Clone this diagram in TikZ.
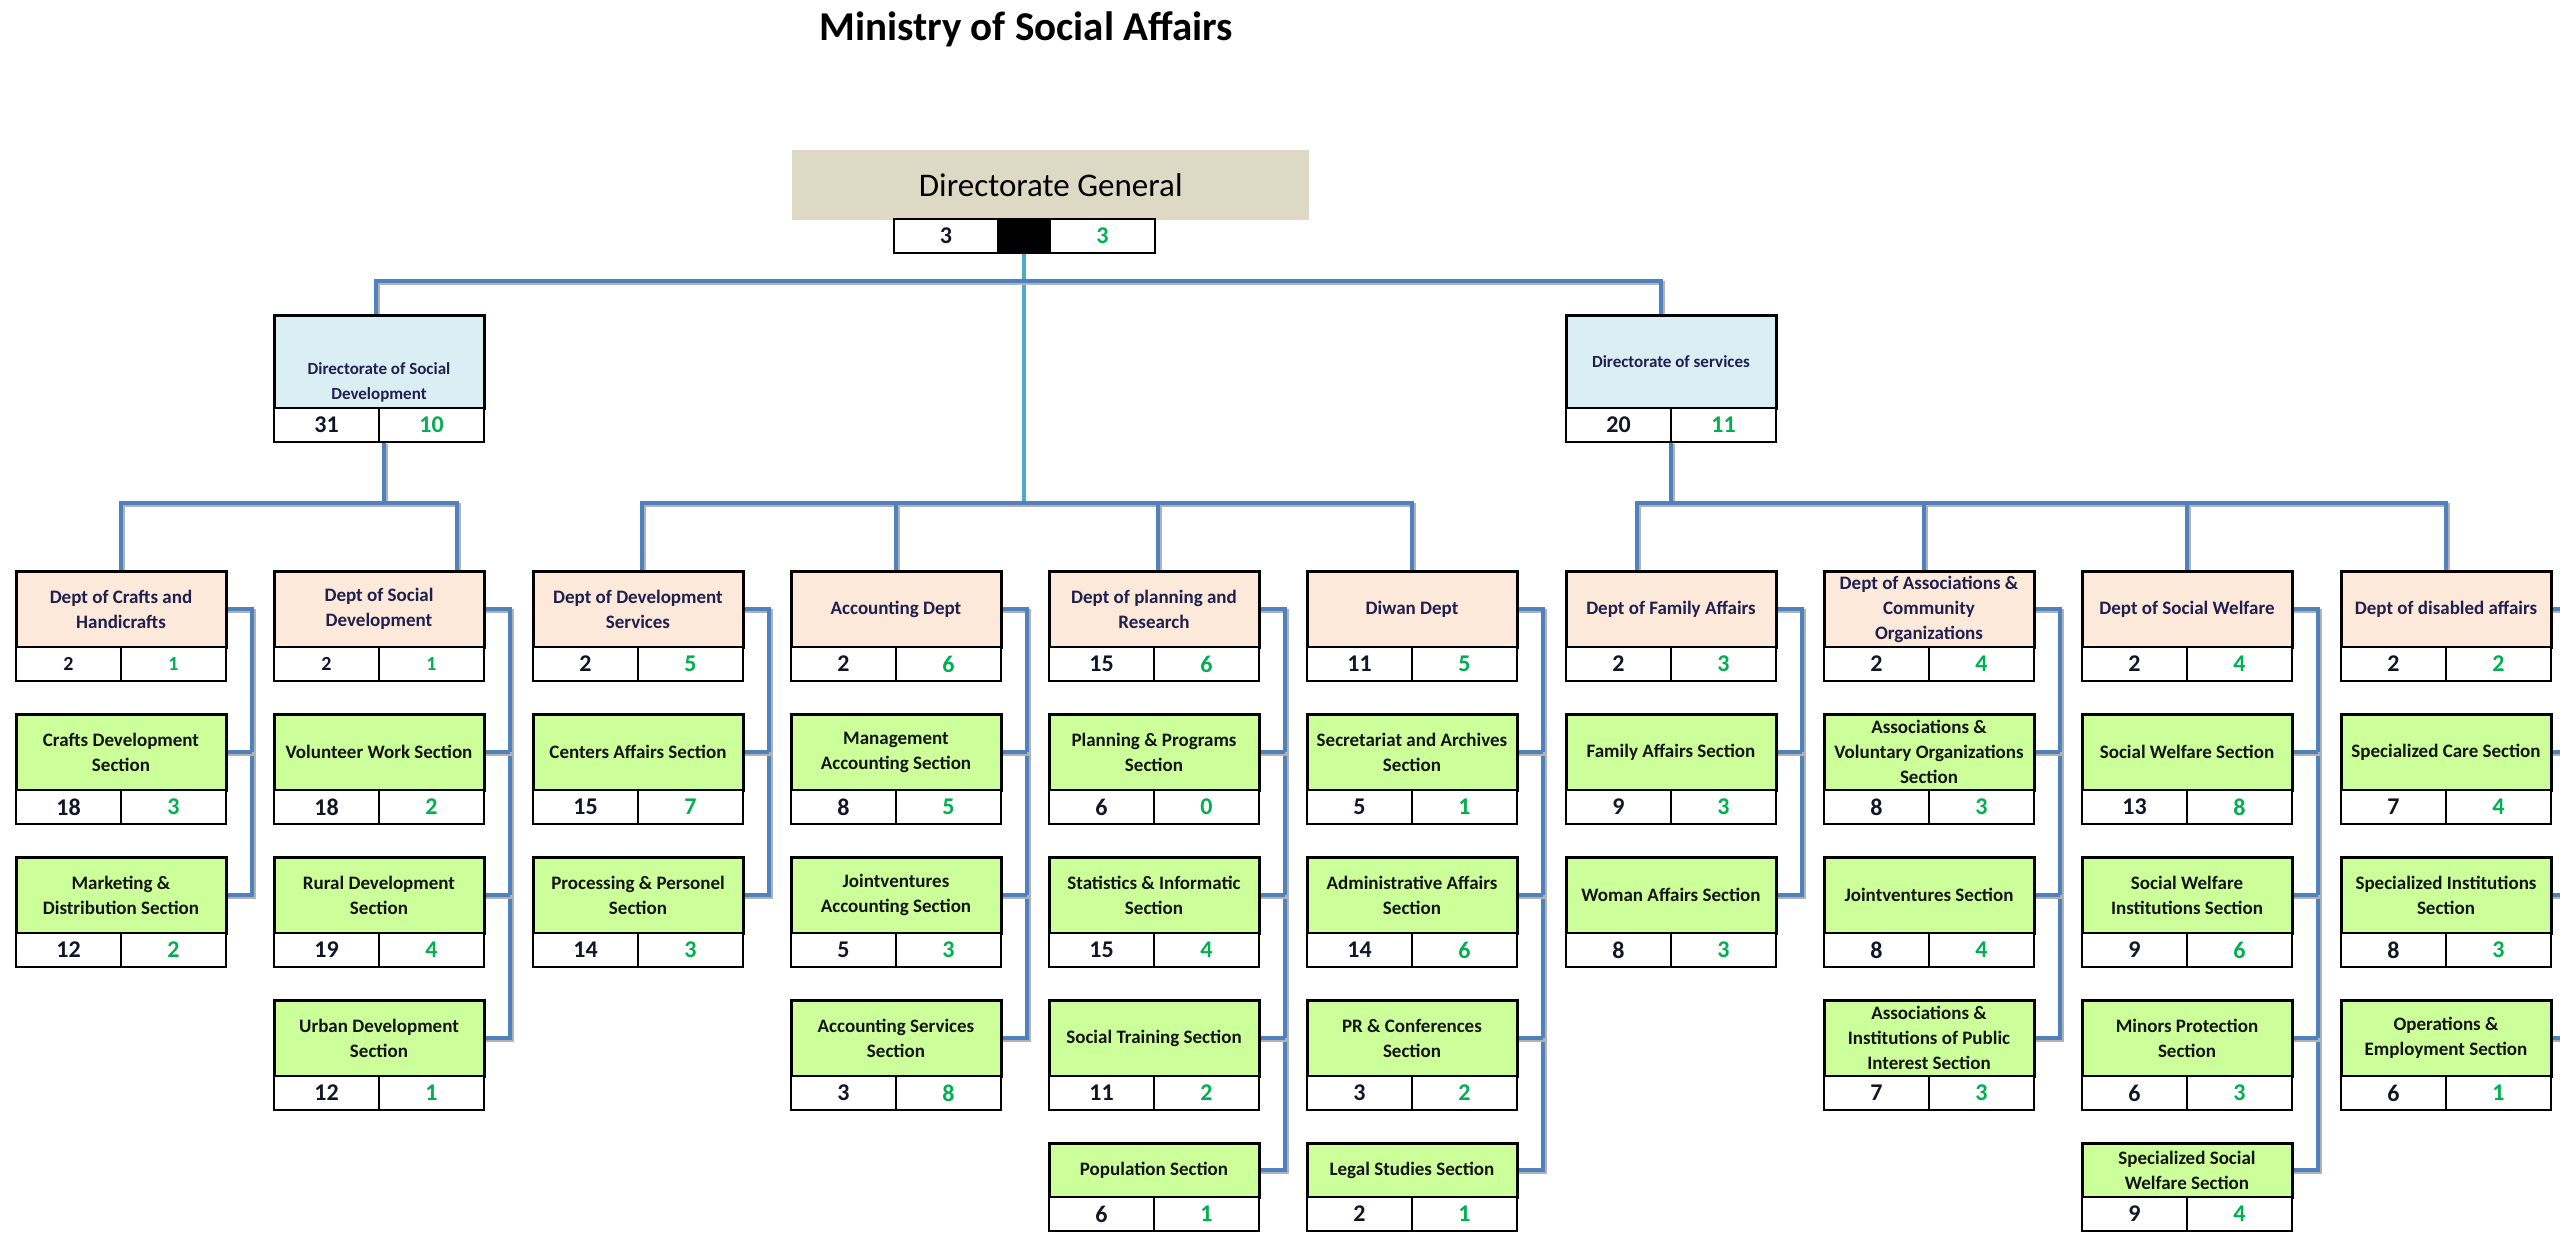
\documentclass[tikz,border=0pt]{standalone}
\usepackage{fontspec}
\setmainfont{Carlito}
\usetikzlibrary{backgrounds}

\definecolor{deptfill}{HTML}{FDE9D9}
\definecolor{secfill}{HTML}{CCFF99}
\definecolor{dirfill}{HTML}{DAEEF3}
\definecolor{dgfill}{HTML}{DDD9C4}
\definecolor{linecol}{HTML}{4F81BD}
\definecolor{trunkcol}{HTML}{4BACC6}
\definecolor{numgreen}{HTML}{00B050}
\definecolor{deptink}{HTML}{1F1F50}
\definecolor{secink}{HTML}{141414}
\definecolor{numink}{HTML}{141428}

\newcommand\orgboxfont{\fontsize{19}{25}\selectfont\bfseries}
\newcommand\orgnumfont{\fontsize{24}{24}\selectfont\bfseries}
\newcommand\smallnum[1]{{\fontsize{20}{20}\selectfont\bfseries #1}}

% #1 name, #2 x, #3 y, #4 title height, #5 style, #6 title, #7 left figure, #8 right figure
\newcommand\unitbox[8]{%
  \node[#5, minimum height=#4pt, anchor=north west] (#1) at (#2,#3) {#6};
  \node[numcell, anchor=north west] (#1l) at (#1.south west) {#7};
  \node[numcell, anchor=north east, text=numgreen] (#1r) at (#1.south east) {#8};
}

\begin{document}
\begin{tikzpicture}[x=1pt,y=-1pt,
  box/.style={draw=black, line width=3pt, inner sep=0pt, outer sep=0pt,
    minimum width=210pt, align=center, font=\orgboxfont},
  deptbox/.style={box, fill=deptfill, text=deptink},
  secbox/.style={box, fill=secfill, text=secink},
  dirbox/.style={box, fill=dirfill, text=deptink},
  numcell/.style={draw=black, line width=2pt, fill=white, inner sep=0pt, outer sep=0pt,
    minimum width=105pt, minimum height=34pt, font=\orgnumfont, text=numink},
  conn/.style={draw=linecol, line width=4pt,
    preaction={draw=black!30, line width=4pt, transform canvas={shift={(1.5pt,-1.5pt)}}}},
  trunk/.style={draw=trunkcol, line width=4pt}]

\useasboundingbox (0,0) rectangle (2560,1232);

% heading
\node[font=\fontsize{41}{41}\selectfont\bfseries, anchor=base] (title) at (1026,40) {Ministry of Social Affairs};

% directorate general
\node[fill=dgfill, minimum width=517pt, minimum height=70pt, inner sep=0pt, anchor=north west,
  font=\fontsize{33}{33}\selectfont, text=black] (dg) at (792,150) {Directorate General};
\node[numcell, minimum width=104pt, anchor=north west] (dgl) at (894,219) {3};
\node[numcell, fill=black, minimum width=52pt, anchor=north west] (dgm) at (dgl.north east) {};
\node[numcell, minimum width=105pt, anchor=north west, text=numgreen] (dgr) at (dgm.north east) {3};

% directorates
\unitbox{dsd}{274}{315}{93}{dirbox}{}{31}{10}
\node[font=\fontsize{17}{25}\selectfont\bfseries, text=deptink, align=center, anchor=south] (dsdtext)
  at (379,406) {Directorate of Social\\Development};
\unitbox{ds}{1566}{315}{93}{dirbox, font=\fontsize{17}{25}\selectfont\bfseries}{Directorate of services}{20}{11}

% departments
\unitbox{d1}{16}{571}{76}{deptbox}{Dept of Crafts and\\Handicrafts}{\smallnum{2}}{\smallnum{1}}
\unitbox{d2}{274}{571}{76}{deptbox}{Dept of Social\\Development}{\smallnum{2}}{\smallnum{1}}
\unitbox{d3}{533}{571}{76}{deptbox}{Dept of Development\\Services}{2}{5}
\unitbox{d4}{791}{571}{76}{deptbox}{Accounting Dept}{2}{6}
\unitbox{d5}{1049}{571}{76}{deptbox}{Dept of planning and\\Research}{15}{6}
\unitbox{d6}{1307}{571}{76}{deptbox}{Diwan Dept}{11}{5}
\unitbox{d7}{1566}{571}{76}{deptbox}{Dept of Family Affairs}{2}{3}
\unitbox{d8}{1824}{571}{76}{deptbox}{Dept of Associations \&\\Community\\Organizations}{2}{4}
\unitbox{d9}{2082}{571}{76}{deptbox}{Dept of Social Welfare}{2}{4}
\unitbox{d10}{2341}{571}{76}{deptbox}{Dept of disabled affairs}{2}{2}

% sections
\unitbox{s1a}{16}{714}{76}{secbox}{Crafts Development\\Section}{18}{3}
\unitbox{s1b}{16}{857}{76}{secbox}{Marketing \&\\Distribution Section}{12}{2}

\unitbox{s2a}{274}{714}{76}{secbox}{Volunteer Work Section}{18}{2}
\unitbox{s2b}{274}{857}{76}{secbox}{Rural Development\\Section}{19}{4}
\unitbox{s2c}{274}{1000}{76}{secbox}{Urban Development\\Section}{12}{1}

\unitbox{s3a}{533}{714}{76}{secbox}{Centers Affairs Section}{15}{7}
\unitbox{s3b}{533}{857}{76}{secbox}{Processing \& Personel\\Section}{14}{3}

\unitbox{s4a}{791}{714}{76}{secbox}{Management\\Accounting Section}{8}{5}
\unitbox{s4b}{791}{857}{76}{secbox}{Jointventures\\Accounting Section}{5}{3}
\unitbox{s4c}{791}{1000}{76}{secbox}{Accounting Services\\Section}{3}{8}

\unitbox{s5a}{1049}{714}{76}{secbox}{Planning \& Programs\\Section}{6}{0}
\unitbox{s5b}{1049}{857}{76}{secbox}{Statistics \& Informatic\\Section}{15}{4}
\unitbox{s5c}{1049}{1000}{76}{secbox}{Social Training Section}{11}{2}
\unitbox{s5d}{1049}{1143}{54}{secbox}{Population Section}{6}{1}

\unitbox{s6a}{1307}{714}{76}{secbox}{Secretariat and Archives\\Section}{5}{1}
\unitbox{s6b}{1307}{857}{76}{secbox}{Administrative Affairs\\Section}{14}{6}
\unitbox{s6c}{1307}{1000}{76}{secbox}{PR \& Conferences\\Section}{3}{2}
\unitbox{s6d}{1307}{1143}{54}{secbox}{Legal Studies Section}{2}{1}

\unitbox{s7a}{1566}{714}{76}{secbox}{Family Affairs Section}{9}{3}
\unitbox{s7b}{1566}{857}{76}{secbox}{Woman Affairs Section}{8}{3}

\unitbox{s8a}{1824}{714}{76}{secbox}{Associations \&\\Voluntary Organizations\\Section}{8}{3}
\unitbox{s8b}{1824}{857}{76}{secbox}{Jointventures Section}{8}{4}
\unitbox{s8c}{1824}{1000}{76}{secbox}{Associations \&\\Institutions of Public\\Interest Section}{7}{3}

\unitbox{s9a}{2082}{714}{76}{secbox}{Social Welfare Section}{13}{8}
\unitbox{s9b}{2082}{857}{76}{secbox}{Social Welfare\\Institutions Section}{9}{6}
\unitbox{s9c}{2082}{1000}{76}{secbox}{Minors Protection\\Section}{6}{3}
\unitbox{s9d}{2082}{1143}{54}{secbox}{Specialized Social\\Welfare Section}{9}{4}

\unitbox{s10a}{2341}{714}{76}{secbox}{Specialized Care Section}{7}{4}
\unitbox{s10b}{2341}{857}{76}{secbox}{Specialized Institutions\\Section}{8}{3}
\unitbox{s10c}{2341}{1000}{76}{secbox}{Operations \&\\Employment Section}{6}{1}

% connectors
\begin{scope}[on background layer]
  \coordinate (j0) at (1024,281);
  \coordinate (j1) at (1024,503);

  \draw[trunk] (dgm.south) -- (dgm.south |- j1);
  \draw[conn] ([xshift=-3pt]dsd.north) |- (j0) -| ([xshift=-10pt]ds.north);

  % central departments
  \draw[conn] ([xshift=4pt]d3.north) |- (d6.north |- j1) -- (d6.north);
  \draw[conn] (d4.north) -- (d4.north |- j1);
  \draw[conn] ([xshift=4pt]d5.north) -- ([xshift=4pt]d5.north |- j1);

  % social development branch
  \draw[conn] ([xshift=5pt]dsdl.south east) -- ([xshift=5pt]dsdl.south east |- j1);
  \draw[conn] (d1.north) |- ([xshift=78pt]d2.north |- j1) -- ([xshift=78pt]d2.north);

  % services branch
  \draw[conn] (dsl.south east) -- (dsl.south east |- j1);
  \draw[conn] ([xshift=-34pt]d7.north) |- (d10.north |- j1) -- (d10.north);
  \draw[conn] ([xshift=-5pt]d8.north) -- ([xshift=-5pt]d8.north |- j1);
  \draw[conn] (d9.north) -- (d9.north |- j1);

  % department to section buses
  \coordinate (bus1) at (252,0);
  \draw[conn] (d1.east) -- (d1.east -| bus1) -- (s1b.east -| bus1) -- (s1b.east);
  \draw[conn] (s1a.east) -- (s1a.east -| bus1);

  \coordinate (bus2) at (510,0);
  \draw[conn] (d2.east) -- (d2.east -| bus2) -- (s2c.east -| bus2) -- (s2c.east);
  \foreach \s in {s2a,s2b} \draw[conn] (\s.east) -- (\s.east -| bus2);

  \coordinate (bus3) at (769,0);
  \draw[conn] (d3.east) -- (d3.east -| bus3) -- (s3b.east -| bus3) -- (s3b.east);
  \draw[conn] (s3a.east) -- (s3a.east -| bus3);

  \coordinate (bus4) at (1027,0);
  \draw[conn] (d4.east) -- (d4.east -| bus4) -- (s4c.east -| bus4) -- (s4c.east);
  \foreach \s in {s4a,s4b} \draw[conn] (\s.east) -- (\s.east -| bus4);

  \coordinate (bus5) at (1285,0);
  \draw[conn] (d5.east) -- (d5.east -| bus5) -- (s5d.east -| bus5) -- (s5d.east);
  \foreach \s in {s5a,s5b,s5c} \draw[conn] (\s.east) -- (\s.east -| bus5);

  \coordinate (bus6) at (1543,0);
  \draw[conn] (d6.east) -- (d6.east -| bus6) -- (s6d.east -| bus6) -- (s6d.east);
  \foreach \s in {s6a,s6b,s6c} \draw[conn] (\s.east) -- (\s.east -| bus6);

  \coordinate (bus7) at (1802,0);
  \draw[conn] (d7.east) -- (d7.east -| bus7) -- (s7b.east -| bus7) -- (s7b.east);
  \draw[conn] (s7a.east) -- (s7a.east -| bus7);

  \coordinate (bus8) at (2060,0);
  \draw[conn] (d8.east) -- (d8.east -| bus8) -- (s8c.east -| bus8) -- (s8c.east);
  \foreach \s in {s8a,s8b} \draw[conn] (\s.east) -- (\s.east -| bus8);

  \coordinate (bus9) at (2318,0);
  \draw[conn] (d9.east) -- (d9.east -| bus9) -- (s9d.east -| bus9) -- (s9d.east);
  \foreach \s in {s9a,s9b,s9c} \draw[conn] (\s.east) -- (\s.east -| bus9);

  \coordinate (bus10) at (2577,0);
  \draw[conn] (d10.east) -- (d10.east -| bus10) -- (s10c.east -| bus10) -- (s10c.east);
  \foreach \s in {s10a,s10b} \draw[conn] (\s.east) -- (\s.east -| bus10);
\end{scope}
\end{tikzpicture}
\end{document}
